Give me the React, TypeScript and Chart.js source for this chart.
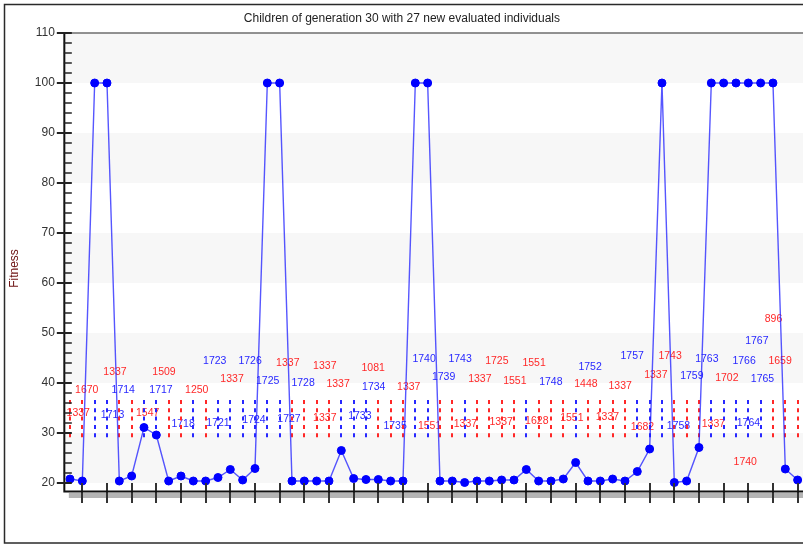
import React, { useEffect, useRef } from 'react';
import { Chart, registerables } from 'chart.js';

Chart.register(...registerables);

const chartTitle = 'Children of generation 30 with 27 new evaluated individuals';
const yAxisTitle = 'Fitness';

// Fitness of each of the 60 children (x = 1..60)
const fitness = [
  20.8, 20.4, 100, 100, 20.4, 21.4, 31.1, 29.6, 20.4, 21.4,
  20.4, 20.4, 21.1, 22.7, 20.6, 22.9, 100, 100, 20.4, 20.4,
  20.4, 20.4, 26.5, 20.9, 20.7, 20.7, 20.4, 20.4, 100, 100,
  20.4, 20.4, 20.1, 20.4, 20.4, 20.6, 20.6, 22.7, 20.4, 20.4,
  20.8, 24.1, 20.4, 20.4, 20.8, 20.4, 22.3, 26.8, 100, 20.1,
  20.4, 27.1, 100, 100, 100, 100, 100, 100, 22.8, 20.6,
];

// 1 = newly evaluated individual (blue), 0 = already evaluated (red)
const isNew = [
  0, 0, 1, 1, 0, 0, 1, 1, 0, 0,
  1, 0, 1, 1, 1, 1, 1, 1, 0, 0,
  0, 0, 1, 1, 1, 0, 0, 0, 1, 1,
  0, 0, 1, 0, 0, 0, 0, 1, 0, 0,
  0, 1, 0, 0, 0, 0, 1, 1, 1, 0,
  0, 0, 1, 1, 1, 1, 1, 0, 0, 0,
];

// Labels of newly evaluated individuals (blue)
const newIds = [
  '1713', '1714', '1717', '1718', '1721', '1723', '1724', '1725', '1726',
  '1727', '1728', '1733', '1734', '1735', '1739', '1740', '1743', '1748',
  '1752', '1757', '1758', '1759', '1763', '1764', '1765', '1766', '1767',
];
const newIdX = [
  4.45, 5.32, 8.38, 10.17, 13.0, 12.74, 15.92, 17.03, 15.6,
  18.76, 19.9, 24.5, 25.63, 27.36, 31.29, 29.71, 32.63, 39.99,
  43.17, 46.58, 50.34, 51.42, 52.64, 56.01, 57.15, 55.66, 56.69,
];
const newIdY = [
  33.6, 38.6, 38.6, 31.8, 32.0, 44.4, 32.6, 40.46, 44.4,
  32.8, 40.0, 33.4, 39.26, 31.4, 41.14, 44.8, 44.8, 40.26,
  43.14, 45.46, 31.4, 41.4, 44.8, 32.06, 40.74, 44.34, 48.46,
];

// Labels of already evaluated individuals (red)
const oldIds = [
  '1337', '1670', '1337', '1547', '1509', '1250', '1337', '1337', '1337',
  '1337', '1337', '1081', '1337', '1551', '1337', '1337', '1725', '1551',
  '1337', '1551', '1628', '1551', '1448', '1337', '1337', '1743', '1337',
  '1682', '1702', '1337', '896', '1659', '1740',
];
const oldIdX = [
  1.67, 2.36, 4.65, 7.3, 8.62, 11.28, 14.14, 18.66, 21.66,
  22.74, 21.66, 25.58, 28.47, 30.16, 34.23, 33.06, 35.61, 37.07,
  35.96, 38.63, 38.85, 41.69, 42.83, 45.61, 44.58, 49.66, 48.5,
  47.42, 54.26, 53.17, 58.04, 58.58, 55.75,
];
const oldIdY = [
  34.0, 38.6, 42.2, 34.0, 42.2, 38.6, 40.8, 44.06, 43.46,
  39.8, 32.94, 42.94, 39.14, 31.46, 40.8, 31.8, 44.34, 40.46,
  32.14, 43.94, 32.46, 32.94, 39.8, 39.46, 33.14, 45.46, 41.6,
  31.14, 40.94, 31.8, 52.74, 44.34, 24.26,
];

const yTickValues = [20, 30, 40, 50, 60, 70, 80, 90, 100, 110];
const xTickValues = [
  2, 4, 6, 8, 10, 12, 14, 16, 18, 20, 22, 24, 26, 28, 30,
  32, 34, 36, 38, 40, 42, 44, 46, 48, 50, 52, 54, 56, 58, 60,
];

const FONT = '"Liberation Sans", Arial, Helvetica, sans-serif';
const RED = 'rgb(255,40,40)';
const BLUE = 'rgb(40,40,255)';

const decor = {
  id: 'decor',
  beforeDraw(chart: any) {
    const { ctx, width, height } = chart;
    ctx.save();
    ctx.fillStyle = '#ffffff';
    ctx.fillRect(0, 0, width, height);
    ctx.strokeStyle = '#2a2a2a';
    ctx.lineWidth = 1.5;
    ctx.strokeRect(4.5, 4.5, width - 9, height - 6.5);
    ctx.restore();
  },
  beforeDatasetsDraw(chart: any) {
    const { ctx, chartArea: a, scales } = chart;
    const x = scales.x;
    const y = scales.y;
    ctx.save();
    // alternating bands
    ctx.fillStyle = '#f7f7f7';
    for (let v = 20; v <= 100; v += 20) {
      const t = y.getPixelForValue(v + 10);
      const b = y.getPixelForValue(v);
      ctx.fillRect(a.left, t, a.right - a.left, b - t);
    }
    // id labels
    ctx.font = `10.5px ${FONT}`;
    ctx.textAlign = 'center';
    ctx.textBaseline = 'middle';
    ctx.fillStyle = RED;
    oldIds.forEach((s, i) => {
      ctx.fillText(s, x.getPixelForValue(oldIdX[i]), y.getPixelForValue(oldIdY[i]));
    });
    ctx.fillStyle = BLUE;
    newIds.forEach((s, i) => {
      ctx.fillText(s, x.getPixelForValue(newIdX[i]), y.getPixelForValue(newIdY[i]));
    });
    // dashed markers
    ctx.setLineDash([4, 4.3]);
    ctx.lineWidth = 2;
    const top = y.getPixelForValue(36.6);
    const bot = y.getPixelForValue(28.4);
    fitness.forEach((_, i) => {
      const px = Math.round(x.getPixelForValue(i + 1));
      ctx.strokeStyle = isNew[i] ? BLUE : RED;
      ctx.beginPath();
      ctx.moveTo(px, top);
      ctx.lineTo(px, bot);
      ctx.stroke();
    });
    ctx.restore();
  },
  afterDatasetsDraw(chart: any) {
    const { ctx, chartArea: a, scales, width } = chart;
    const x = scales.x;
    const y = scales.y;
    ctx.save();
    // top border
    ctx.strokeStyle = '#6e6e6e';
    ctx.lineWidth = 1.5;
    ctx.beginPath();
    ctx.moveTo(a.left, a.top);
    ctx.lineTo(width, a.top);
    ctx.stroke();
    // x axis shadow
    ctx.fillStyle = '#b4b4b4';
    ctx.fillRect(a.left + 5, a.bottom + 1, width, 5);
    // x ticks
    ctx.strokeStyle = '#333333';
    ctx.lineWidth = 2;
    xTickValues.forEach((v) => {
      const px = Math.round(x.getPixelForValue(v));
      ctx.beginPath();
      ctx.moveTo(px, a.bottom - 9);
      ctx.lineTo(px, a.bottom + 11);
      ctx.stroke();
    });
    // axes
    ctx.strokeStyle = '#111111';
    ctx.lineWidth = 2;
    ctx.beginPath();
    ctx.moveTo(a.left - 0.5, a.bottom - 0.5);
    ctx.lineTo(width, a.bottom - 0.5);
    ctx.moveTo(a.left + 0.5, a.top);
    ctx.lineTo(a.left + 0.5, a.bottom);
    ctx.stroke();
    // y ticks (minor every 2)
    ctx.strokeStyle = '#222222';
    for (let v = 20; v <= 110; v += 2) {
      const py = Math.round(y.getPixelForValue(v));
      const major = v % 10 === 0;
      ctx.lineWidth = major ? 2 : 1.5;
      ctx.beginPath();
      ctx.moveTo(major ? a.left - 7 : a.left, py);
      ctx.lineTo(a.left + 8, py);
      ctx.stroke();
    }
    ctx.restore();
  },
  afterDraw(chart: any) {
    const { ctx } = chart;
    ctx.save();
    ctx.translate(15, 268.5);
    ctx.rotate(-Math.PI / 2);
    ctx.font = `12px ${FONT}`;
    ctx.fillStyle = '#6b1010';
    ctx.textAlign = 'center';
    ctx.textBaseline = 'middle';
    ctx.fillText(yAxisTitle, 0, 0);
    ctx.restore();
  },
};

export default function App() {
  const ref = useRef<HTMLCanvasElement>(null);
  useEffect(() => {
    const chart = new Chart(ref.current as HTMLCanvasElement, {
      type: 'scatter',
      data: {
        datasets: [
          {
            data: fitness.map((v, i) => ({ x: i + 1, y: v })),
            showLine: true,
            borderColor: 'rgba(30,30,255,0.75)',
            borderWidth: 1.4,
            pointRadius: 4,
            pointBorderWidth: 1,
            pointBackgroundColor: '#0000ff',
            pointBorderColor: '#0000ff',
            tension: 0,
          },
        ],
      },
      plugins: [decor],
      options: {
        animation: false,
        responsive: false,
        devicePixelRatio: 1,
        events: [],
        layout: { padding: { left: 0, right: 12.2, top: 0, bottom: 0 } },
        plugins: {
          legend: { display: false },
          tooltip: { enabled: false },
          title: {
            display: true,
            text: chartTitle,
            color: '#222222',
            font: { family: FONT, size: 12, weight: 'normal' },
            padding: { top: 11, bottom: 7.6 },
          },
        },
        scales: {
          x: {
            type: 'linear',
            min: 0.5,
            max: 60.5,
            grid: { display: false, drawTicks: false },
            border: { display: false },
            ticks: { display: false },
            afterFit: (s: any) => {
              s.height = 53;
            },
          },
          y: {
            type: 'linear',
            min: 18.2,
            max: 110,
            grid: { display: false, drawTicks: false },
            border: { display: false },
            afterBuildTicks: (s: any) => {
              s.ticks = yTickValues.map((v) => ({ value: v }));
            },
            ticks: {
              color: '#333333',
              padding: 9,
              font: { family: FONT, size: 12 },
              callback: (v: any) => String(v),
            },
            afterFit: (s: any) => {
              s.width = 63.83;
            },
          },
        },
      },
    } as any);
    return () => chart.destroy();
  }, []);
  return (
    <div
      style={{
        position: 'fixed',
        left: 0,
        top: 0,
        width: 803,
        height: 545,
        overflow: 'hidden',
        background: '#ffffff',
      }}
    >
      <canvas ref={ref} width={816} height={545} style={{ display: 'block', width: 816, height: 545 }} />
    </div>
  );
}
